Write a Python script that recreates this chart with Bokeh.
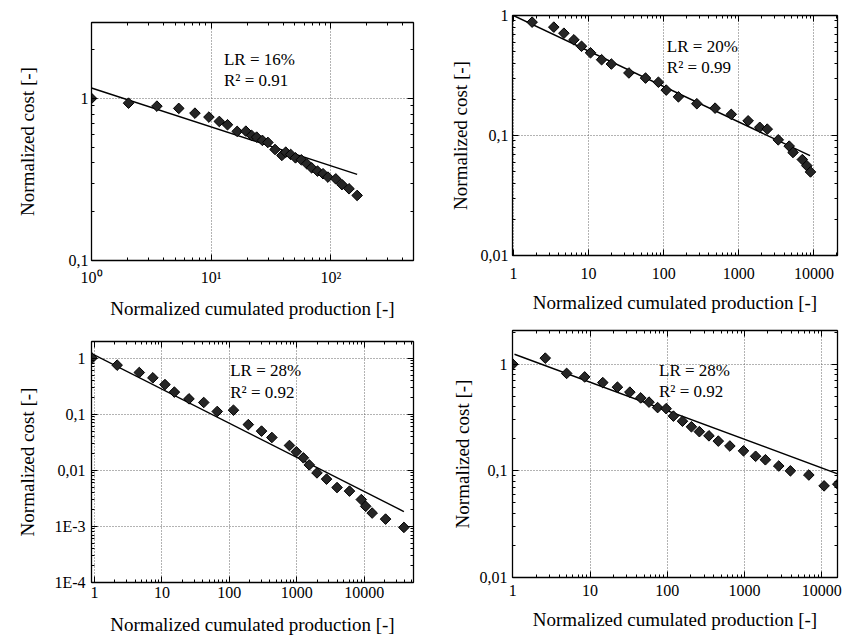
import math
from bokeh.plotting import figure
from bokeh.models import Range1d, FixedTicker, LogAxis, Label
from bokeh.layouts import column, row
from bokeh.embed import file_html
from bokeh.resources import INLINE

# ---------------- data ----------------
# Panel 1 (top-left)
p1_x = [1.0, 2.04, 3.52, 5.36, 7.32, 9.58, 11.7, 13.7, 16.5, 19.5, 21.8, 24.0, 26.8, 29.8,
        34.2, 39.0, 42.0, 46.2, 50.7, 56.7, 63.0, 69.2, 77.4, 86.1, 94.6, 110, 124, 142, 166]
p1_y = [1.0, 0.935, 0.896, 0.868, 0.811, 0.767, 0.721, 0.688, 0.626, 0.628, 0.591, 0.577, 0.551,
        0.535, 0.484, 0.445, 0.466, 0.451, 0.430, 0.418, 0.395, 0.373, 0.356, 0.343, 0.327,
        0.319, 0.294, 0.277, 0.252]
p1_fit_x = [1.0, 166]
p1_fit_y = [1.16, 0.34]

# Panel 2 (top-right)
p2_x = [1.77, 3.44, 4.69, 6.37, 8.05, 10.6, 14.9, 20.1, 34.4, 57.3, 85, 108, 157, 276, 483,
        793, 1330, 1900, 2390, 3350, 4690, 5270, 7010, 8050, 9000]
p2_y = [0.88, 0.80, 0.712, 0.627, 0.554, 0.489, 0.428, 0.394, 0.332, 0.301, 0.278, 0.239, 0.210,
        0.184, 0.169, 0.150, 0.1325, 0.117, 0.113, 0.092, 0.0815, 0.0722, 0.063, 0.056, 0.0497]
p2_fit_x = [1.0, 8870]
p2_fit_y = [1.0, 0.068]

# Panel 3 (bottom-left)
p3_x = [0.92, 2.17, 4.62, 7.34, 11.1, 15.3, 25.2, 41.7, 66.1, 115, 191, 300, 427, 778, 984,
        1250, 1530, 1990, 2760, 3950, 6040, 9040, 10500, 13100, 20700, 38700]
p3_y = [1.0, 0.75, 0.554, 0.446, 0.338, 0.248, 0.188, 0.162, 0.112, 0.118, 0.0653, 0.050, 0.0385,
        0.0277, 0.0214, 0.0167, 0.0125, 0.0090, 0.00697, 0.00493, 0.00426, 0.00301, 0.00228,
        0.00173, 0.00135, 0.00096]
p3_fit_x = [0.85, 38700]
p3_fit_y = [1.26, 0.00184]

# Panel 4 (bottom-right)
p4_x = [1.0, 2.63, 4.97, 8.51, 14.6, 22.6, 32.7, 45.2, 57.9, 74.9, 96.6, 120, 157, 205, 260,
        346, 457, 645, 969, 1390, 1860, 2770, 3920, 6790, 10700, 16100]
p4_y = [1.0, 1.14, 0.820, 0.760, 0.672, 0.609, 0.547, 0.483, 0.441, 0.392, 0.383, 0.326, 0.292,
        0.259, 0.233, 0.213, 0.190, 0.171, 0.154, 0.137, 0.127, 0.111, 0.100, 0.0914, 0.0723, 0.075]
p4_fit_x = [1.05, 16600]
p4_fit_y = [1.24, 0.093]

# tick labels
x_ticks_exp = [1, 10, 100]
x_labels_exp = ["10\u2070", "10\u00b9", "10\u00b2"]
x_ticks_dec = [1, 10, 100, 1000, 10000]
x_labels_dec = ["1", "10", "100", "1000", "10000"]
y_ticks_1 = [0.1, 1]
y_labels_1 = ["0,1", "1"]
y_ticks_2 = [0.01, 0.1, 1]
y_labels_2 = ["0,01", "0,1", "1"]
y_ticks_3 = [0.0001, 0.001, 0.01, 0.1, 1]
y_labels_3 = ["1E-4", "1E-3", "0,01", "0,1", "1"]

annotations = [("LR = 16%", "R\u00b2 = 0.91"), ("LR = 20%", "R\u00b2 = 0.99"),
               ("LR = 28%", "R\u00b2 = 0.92"), ("LR = 28%", "R\u00b2 = 0.92")]

FONT = "Liberation Serif"
MINOR = [m * 10.0 ** e for e in range(-5, 6) for m in range(2, 10)]


def style_axis(ax, ticks, labels, show_labels=True):
    ax.ticker = FixedTicker(ticks=ticks, minor_ticks=MINOR)
    ax.axis_line_color = "black"
    ax.axis_line_width = 1.3
    ax.major_tick_in = 6
    ax.major_tick_out = 0
    ax.minor_tick_in = 3
    ax.minor_tick_out = 0
    ax.major_tick_line_color = "black"
    ax.minor_tick_line_color = "black"
    ax.major_label_text_font = FONT
    if show_labels:
        ax.major_label_overrides = dict(zip(ticks, labels))
        ax.major_label_text_font_size = "16px"
        ax.major_label_text_color = "black"
    else:
        ax.major_label_overrides = {t: "" for t in ticks}
        ax.major_label_text_font_size = "1px"
        ax.major_label_text_color = None
        ax.major_label_standoff = 0


def panel(width, height, borders, xr, yr, xt, xl, yt, yl, px, py, fx, fy, ann, ann_pos,
          xstand, ystand, xlab_stand, ylab_stand):
    left, right, top, bottom = borders
    p = figure(width=width, height=height, x_axis_type="log", y_axis_type="log",
               x_range=Range1d(*xr), y_range=Range1d(*yr),
               toolbar_location=None, output_backend="svg", title_location=None,
               min_border_left=left, min_border_right=right,
               min_border_top=top, min_border_bottom=bottom)
    p.background_fill_color = "white"
    p.border_fill_color = "white"
    p.outline_line_color = "black"
    p.outline_line_width = 1

    style_axis(p.xaxis[0], xt, xl)
    style_axis(p.yaxis[0], yt, yl)
    p.xaxis.major_label_standoff = xlab_stand
    p.yaxis.major_label_standoff = ylab_stand
    p.xaxis.axis_label = "Normalized cumulated production [-]"
    p.yaxis.axis_label = "Normalized cost [-]"
    for ax in (p.xaxis[0], p.yaxis[0]):
        ax.axis_label_text_font = FONT
        ax.axis_label_text_font_size = "19px"
        ax.axis_label_text_font_style = "normal"
        ax.axis_label_text_color = "black"
    p.xaxis.axis_label_standoff = xstand
    p.yaxis.axis_label_standoff = ystand

    top_ax = LogAxis()
    style_axis(top_ax, xt, xl, show_labels=False)
    p.add_layout(top_ax, "above")
    right_ax = LogAxis()
    style_axis(right_ax, yt, yl, show_labels=False)
    p.add_layout(right_ax, "right")

    for g in (p.xgrid[0], p.ygrid[0]):
        g.grid_line_color = "#666666"
        g.grid_line_dash = "1 2"
        g.grid_line_width = 1

    p.line(fx, fy, line_color="black", line_width=1.4)
    p.scatter(px, py, marker="square", size=7.5, angle=math.pi / 4,
              fill_color="#262626", line_color="black", line_width=1)

    (ax_, ay1, ay2) = ann_pos
    for txt, yy in ((ann[0], ay1), (ann[1], ay2)):
        p.add_layout(Label(x=ax_, y=yy, text=txt, text_font=FONT, text_font_size="17px",
                           text_baseline="middle", text_align="left", text_color="black"))
    return p


# args: width, height, (left, right, top, bottom borders), x range, y range, ...,
#       axis-label standoffs (x, y), tick-label standoffs (x, y)
f1 = panel(424, 333, (82, 11, 22, 73), (1.0, 491), (0.1, 2.94),
           x_ticks_exp, x_labels_exp, y_ticks_1, y_labels_1,
           p1_x, p1_y, p1_fit_x, p1_fit_y, annotations[0], (12.8, 1.74, 1.29),
           9, 28, 8, 3)
f3 = panel(424, 307, (91, 6, 8, 58), (0.904, 53700), (0.0001, 1.98),
           x_ticks_dec, x_labels_dec, y_ticks_3, y_labels_3,
           p3_x, p3_y, p3_fit_x, p3_fit_y, annotations[2], (103, 0.594, 0.24),
           13, 13, 4, 6)
f2 = panel(420, 326, (82, 7, 15, 71), (0.97, 20600), (0.01, 1.0),
           x_ticks_dec, x_labels_dec, y_ticks_2, y_labels_2,
           p2_x, p2_y, p2_fit_x, p2_fit_y, annotations[1], (110, 0.552, 0.369),
           10, 7, 12, 4)
f4 = panel(420, 314, (88, 1, 4, 63), (0.99, 15960), (0.01, 2.07),
           x_ticks_dec, x_labels_dec, y_ticks_2, y_labels_2,
           p4_x, p4_y, p4_fit_x, p4_fit_y, annotations[3], (78, 0.865, 0.55),
           10, 4, 7, 5)

layout = row(column(f1, f3), column(f2, f4))
open("out.html", "w").write(file_html(layout, INLINE))
